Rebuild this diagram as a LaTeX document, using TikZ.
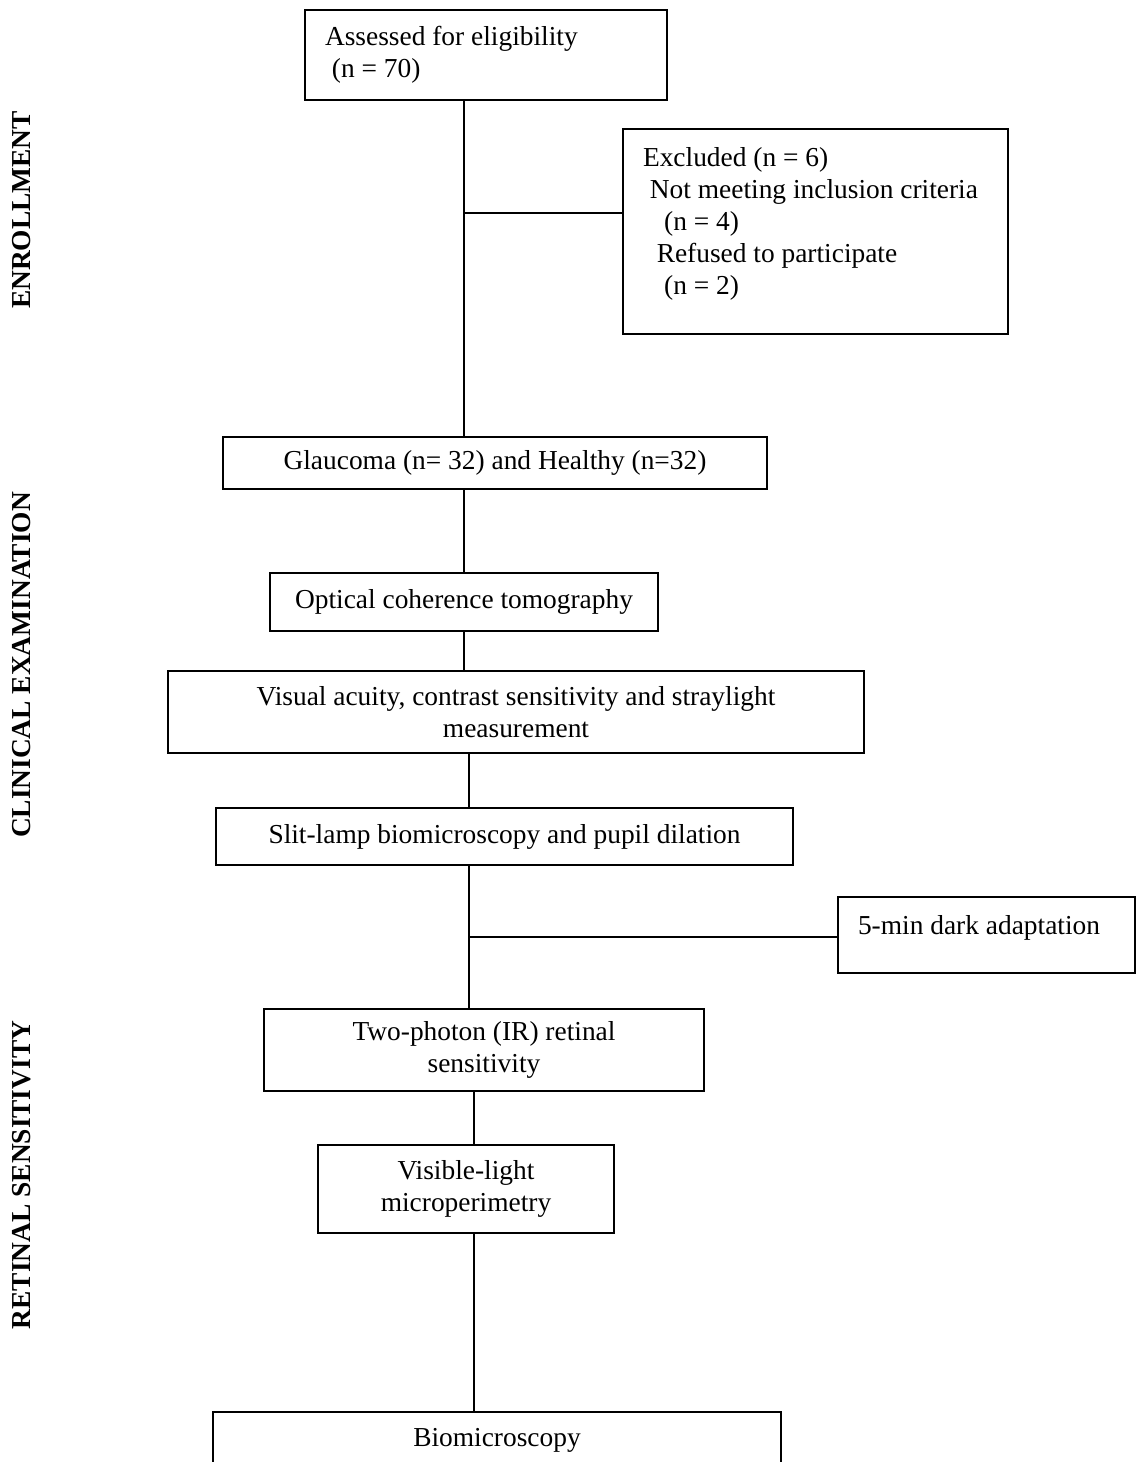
\documentclass[tikz,border=0pt]{standalone}
\usepackage{fontspec}
\setmainfont{Liberation Serif}
\begin{document}
\begin{tikzpicture}[x=0.02cm, y=-0.02cm,
	box/.style={draw, line width=1.1pt, inner sep=0pt, align=center, font=\fontsize{15.6}{18.2}\selectfont},
	lbox/.style={box, align=flush left, inner xsep=0.4cm},
	phase/.style={rotate=90, font=\fontsize{15.6}{18.2}\selectfont\bfseries},
	link/.style={line width=0.9pt}]
	\useasboundingbox (0,0) rectangle (1143,1462);
	\clip (0,0) rectangle (1143,1462);
%	\draw[help lines, step=50] (0,0) grid (1143,1462);
	\node[phase] (enrol) at (22,210) {ENROLLMENT};
	\node[phase] (clinical) at (22,665) {CLINICAL EXAMINATION};
	\node[phase] (retinal) at (22,1175) {RETINAL SENSITIVITY};
	\node[lbox, text width=6.44cm, minimum height=1.8cm] (assessed) at (486,55) {Assessed for eligibility\\\hspace{0.25em}(n = 70)};
	\node[lbox, text width=6.9cm, minimum height=4.1cm] (excluded) at (815.5,231.5) {Excluded (n = 6)\\\hspace{0.25em}Not meeting inclusion criteria\\\hspace{0.77em}(n = 4)\\\hspace{0.5em}Refused to participate\\\hspace{0.77em}(n = 2)\rule[-0.43cm]{0pt}{0pt}};
	\node[box, minimum width=10.88cm, minimum height=1.04cm] (glaucoma) at (495,463) {Glaucoma (n= 32) and Healthy (n=32)};
	\node[box, minimum width=7.76cm, minimum height=1.16cm] (oct) at (464,602) {Optical coherence tomography};
	\node[box, minimum width=13.92cm, minimum height=1.64cm] (visual) at (516,712) {Visual acuity, contrast sensitivity and straylight\\measurement};
	\node[box, minimum width=11.54cm, minimum height=1.14cm] (slit) at (504.5,836.5) {Slit-lamp biomicroscopy and pupil dilation};
	\node[lbox, text width=5.14cm, minimum height=1.52cm] (dark) at (986.5,935) {5-min dark adaptation\rule[-0.4cm]{0pt}{0pt}};
	\node[box, minimum width=8.8cm, minimum height=1.64cm] (twophoton) at (484,1050) {Two-photon (IR) retinal\\sensitivity};
	\node[box, minimum width=5.92cm, minimum height=1.76cm] (visible) at (466,1189) {Visible-light\\microperimetry};
	\node[box, minimum width=11.36cm, minimum height=1.12cm] (bio) at (497,1440) {Biomicroscopy};
	\coordinate (j1) at (464,213);
	\coordinate (j2) at (469,937);
	\coordinate (j3) at (474,1120);
	\draw[link] (j1 |- assessed.south) -- (j1 |- glaucoma.north);
	\draw[link] (j1) -- (excluded.west |- j1);
	\draw[link] (oct.north |- glaucoma.south) -- (oct.north);
	\draw[link] (oct.south) -- (oct.south |- visual.north);
	\draw[link] (j2 |- visual.south) -- (j2 |- slit.north);
	\draw[link] (j2 |- slit.south) -- (j2 |- twophoton.north);
	\draw[link] (j2) -- (dark.west |- j2);
	\draw[link] (j3 |- twophoton.south) -- (j3 |- visible.north);
	\draw[link] (j3 |- visible.south) -- (j3 |- bio.north);
\end{tikzpicture}
\end{document}
